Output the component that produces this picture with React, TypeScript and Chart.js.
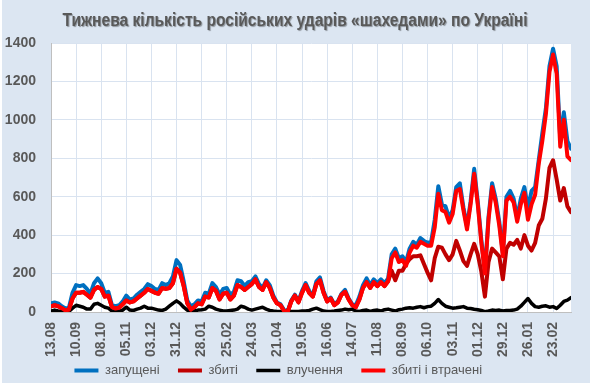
import React, { useEffect, useRef } from 'react';
import { Chart, registerables } from 'chart.js';

Chart.register(...registerables);

const chartTitle = 'Тижнева кількість російських ударів «шахедами» по Україні';

const dateLabels = [
  '13.08', '10.09', '08.10', '05.11', '03.12', '31.12', '28.01', '25.02', '24.03', '21.04', '19.05',
  '16.06', '14.07', '11.08', '08.09', '06.10', '03.11', '01.12', '29.12', '26.01', '23.02',
];

const daysPerPoint = 4;
const daysPerLabel = 28;
const lastDay = 580;

const seriesNames = ['запущені', 'збиті', 'влучення', 'збиті і втрачені'];

const launched = [
  45, 50, 45, 30, 18, 22, 100, 140, 135, 140,
  120, 95, 150, 175, 150, 100, 105, 35, 30, 35,
  55, 85, 65, 70, 90, 105, 120, 145, 135, 120,
  115, 150, 140, 150, 185, 270, 245, 160, 60, 30,
  40, 60, 55, 100, 95, 150, 130, 90, 120, 125,
  90, 105, 165, 160, 135, 155, 160, 185, 145, 125,
  165, 140, 85, 50, 40, 10, 5, 60, 90, 55,
  110, 150, 110, 85, 160, 180, 110, 60, 75, 40,
  55, 95, 115, 70, 40, 35, 80, 140, 175, 140,
  170, 150, 170, 150, 175, 300, 330, 280, 290, 260,
  330, 365, 350, 385, 370, 360, 365, 480, 655, 560,
  550, 490, 530, 650, 670, 545, 445, 575, 745, 575,
  375, 210, 495, 670, 590, 470, 305, 600, 630, 590,
  490, 590, 650, 540, 630, 650, 790, 930, 1060, 1280,
  1370, 1280, 900, 1040, 890, 850,
];

const shotDown = [
  30, 35, 30, 20, 8, 12, 70, 100, 100, 105,
  90, 75, 115, 130, 120, 80, 85, 25, 18, 22,
  40, 60, 50, 55, 70, 85, 100, 120, 110, 100,
  95, 125, 120, 125, 150, 225, 205, 135, 45, 12,
  25, 45, 40, 80, 75, 125, 110, 65, 95, 100,
  65, 85, 140, 130, 115, 130, 145, 170, 130, 115,
  155, 125, 75, 45, 35, 5, 0, 55, 85, 50,
  100, 140, 100, 80, 145, 165, 100, 55, 70, 35,
  50, 90, 105, 65, 35, 25, 65, 125, 155, 125,
  155, 135, 155, 135, 160, 215, 165, 215, 215, 250,
  275, 290, 290, 295, 250, 205, 165, 280, 340, 335,
  300, 270, 300, 370, 320, 265, 240, 300, 355, 300,
  210, 80, 260, 330, 310, 290, 170, 330, 360, 350,
  375, 330, 400, 345, 320, 360, 450, 485, 590, 750,
  790, 690, 580, 645, 550, 520,
];

const hits = [
  5, 10, 5, 2, 2, 3, 20, 35, 30, 25,
  15, 15, 40, 45, 35, 25, 20, 5, 3, 3,
  10, 25, 10, 8, 15, 20, 30, 20, 20, 15,
  10, 8, 15, 30, 45, 58, 45, 25, 10, 3,
  5, 10, 12, 15, 30, 25, 15, 10, 5, 5,
  8, 10, 15, 30, 25, 15, 10, 15, 20, 25,
  15, 8, 5, 3, 2, 1, 1, 2, 3, 3,
  5, 5, 8, 15, 20, 12, 5, 3, 3, 5,
  8, 10, 15, 12, 15, 5, 3, 8, 10, 3,
  8, 10, 5, 12, 15, 10, 5, 12, 15, 20,
  22, 20, 25, 28, 22, 28, 30, 45, 65, 45,
  30, 25, 20, 22, 25, 28, 20, 18, 14, 12,
  8, 2, 5, 10, 8, 10, 5, 8, 8, 10,
  15, 30, 50, 70, 45, 28, 25, 30, 32, 25,
  28, 18, 35, 55, 62, 75,
];

const shotOrLost = [
  30, 35, 30, 20, 8, 12, 70, 100, 100, 105,
  90, 75, 115, 130, 120, 80, 85, 25, 18, 22,
  40, 60, 50, 55, 70, 85, 100, 120, 110, 100,
  95, 125, 120, 125, 150, 225, 205, 135, 45, 12,
  25, 45, 40, 80, 75, 125, 110, 65, 95, 100,
  65, 85, 140, 130, 115, 130, 145, 170, 130, 115,
  155, 125, 75, 45, 35, 5, 0, 55, 85, 50,
  100, 140, 100, 80, 145, 165, 100, 55, 70, 35,
  50, 90, 105, 65, 35, 25, 65, 125, 155, 125,
  155, 135, 155, 135, 160, 280, 310, 260, 270, 240,
  310, 345, 335, 365, 355, 345, 345, 440, 615, 530,
  520, 465, 510, 630, 640, 530, 430, 560, 720, 560,
  360, 200, 480, 650, 570, 450, 290, 580, 600, 570,
  470, 560, 620, 480, 560, 610, 770, 890, 1030, 1250,
  1340, 1240, 860, 1000, 810, 790,
];

const yMax = 1400;
const yStep = 200;

const toPoints = (arr: number[]) => arr.map((v, i) => ({ x: i * daysPerPoint, y: v }));

const textGrey = '#595959';
const gridColor = '#D9E3F0';
const axisColor = '#BFBFBF';
const pageBlue = '#DCE6F2';
const tickFont = { family: "'Liberation Sans', Arial, sans-serif", size: 14, weight: 'bold' as const };

const backgroundPlugin = {
  id: 'pageBackground',
  beforeDraw(chart: any) {
    const { ctx, width, height, chartArea } = chart;
    ctx.save();
    ctx.fillStyle = '#ffffff';
    ctx.fillRect(0, 0, width, height);
    ctx.fillStyle = pageBlue;
    ctx.fillRect(2, 0, width - 2, height - 2);
    ctx.fillStyle = '#ffffff';
    ctx.fillRect(chartArea.left, chartArea.top, chartArea.right - chartArea.left, chartArea.bottom - chartArea.top);
    ctx.restore();
  },
};

// Title drawn in a condensed (narrow) style, like the original chart's narrow bold face.
const narrowTitlePlugin = {
  id: 'narrowTitle',
  afterDraw(chart: any) {
    const { ctx, width } = chart;
    ctx.save();
    ctx.font = "bold 18px 'Liberation Sans', Arial, sans-serif";
    const w = ctx.measureText(chartTitle).width;
    const targetW = 465;
    const sx = targetW / w;
    ctx.translate(width / 2, 25.5);
    ctx.scale(sx, 1);
    ctx.textAlign = 'center';
    ctx.textBaseline = 'alphabetic';
    ctx.shadowColor = 'rgba(0,0,0,0.35)';
    ctx.shadowOffsetX = 1;
    ctx.shadowOffsetY = 1;
    ctx.shadowBlur = 1;
    ctx.fillStyle = textGrey;
    ctx.fillText(chartTitle, 0, 0);
    ctx.restore();
  },
};

export default function App() {
  const canvasRef = useRef<HTMLCanvasElement>(null);

  useEffect(() => {
    const canvas = canvasRef.current;
    if (!canvas) return;
    const lineBase = {
      pointRadius: 0,
      pointHoverRadius: 0,
      tension: 0,
      fill: false,
      borderJoinStyle: 'round' as const,
      borderCapStyle: 'round' as const,
    };
    const chart = new Chart(canvas, {
      type: 'line',
      data: {
        datasets: [
          { ...lineBase, label: seriesNames[0], data: toPoints(launched), borderColor: '#0070C0', backgroundColor: '#0070C0', borderWidth: 4, order: 3 },
          { ...lineBase, label: seriesNames[1], data: toPoints(shotDown), borderColor: '#C00000', backgroundColor: '#C00000', borderWidth: 4, order: 2 },
          { ...lineBase, label: seriesNames[2], data: toPoints(hits), borderColor: '#000000', backgroundColor: '#000000', borderWidth: 3.5, order: 1 },
          { ...lineBase, label: seriesNames[3], data: toPoints(shotOrLost), borderColor: '#FF0000', backgroundColor: '#FF0000', borderWidth: 4, order: 0 },
        ],
      },
      options: {
        responsive: false,
        animation: false,
        devicePixelRatio: 1,
        events: [],
        layout: { padding: { left: 0, right: 19, top: 43, bottom: 0 } },
        plugins: {
          title: { display: false },
          legend: {
            position: 'bottom',
            maxHeight: 25,
            labels: {
              usePointStyle: true,
              pointStyle: 'line',
              pointStyleWidth: 24,
              color: textGrey,
              padding: 4,
              font: { family: "'Liberation Sans', Arial, sans-serif", size: 13 },
              generateLabels: (c: any) => {
                const items = Chart.defaults.plugins.legend.labels.generateLabels(c);
                return items
                  .sort((a: any, b: any) => a.datasetIndex - b.datasetIndex)
                  .map((it: any) => ({ ...it, text: it.text + '\u00A0\u00A0\u00A0\u00A0' }));
              },
            },
          },
          tooltip: { enabled: false },
        },
        scales: {
          x: {
            type: 'linear',
            min: 0,
            max: lastDay,
            afterBuildTicks: (s: any) => {
              s.ticks = s.ticks.filter((t: any) => t.value % daysPerLabel === 0);
            },
            afterFit: (s: any) => {
              s.height = 48;
            },
            ticks: {
              stepSize: daysPerLabel,
              autoSkip: false,
              maxRotation: 90,
              minRotation: 90,
              padding: 10,
              color: textGrey,
              font: tickFont,
              callback: (v: any) => dateLabels[Math.round(Number(v) / daysPerLabel)] ?? '',
            },
            grid: { color: gridColor, drawTicks: false, lineWidth: 1 },
            border: { color: axisColor, width: 1 },
          },
          y: {
            min: 0,
            max: yMax,
            afterFit: (s: any) => {
              s.width = 51;
            },
            ticks: {
              stepSize: yStep,
              padding: 15,
              color: textGrey,
              font: tickFont,
              callback: (v: any) => String(v),
            },
            grid: { color: gridColor, drawTicks: false, lineWidth: 1 },
            border: { color: axisColor, width: 1 },
          },
        },
      },
      plugins: [backgroundPlugin, narrowTitlePlugin],
    } as any);
    return () => chart.destroy();
  }, []);

  return (
    <div style={{ position: 'fixed', left: 0, top: 0, width: 590, height: 385 }}>
      <canvas ref={canvasRef} width={590} height={385} style={{ display: 'block', width: 590, height: 385 }} />
    </div>
  );
}
